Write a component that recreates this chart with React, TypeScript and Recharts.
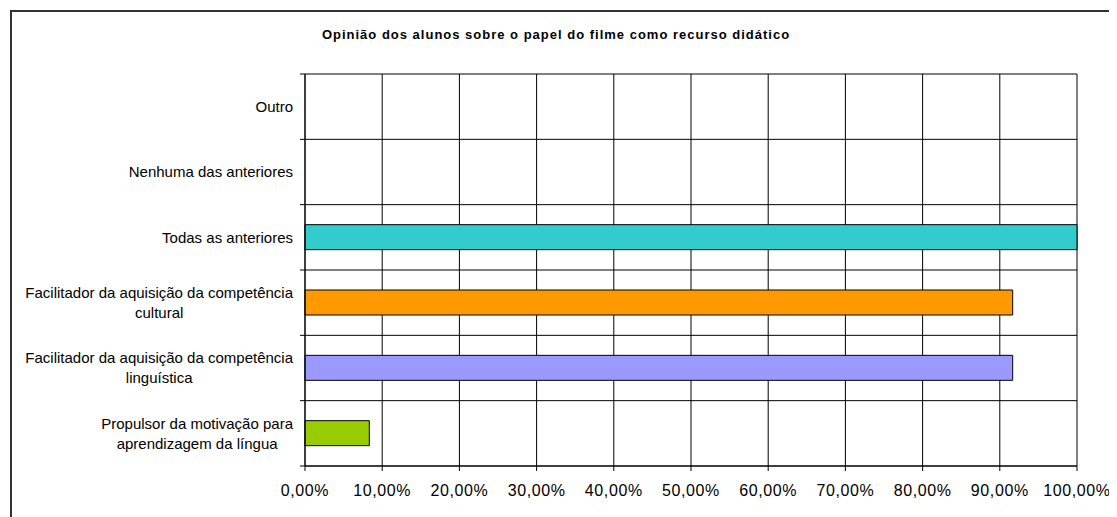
import React from "react";
import { BarChart, Bar, XAxis, YAxis, CartesianGrid, Cell } from "recharts";

const categories = [
  "Outro",
  "Nenhuma das anteriores",
  "Todas as anteriores",
  "Facilitador da aquisição da competência\ncultural",
  "Facilitador da aquisição da competência\nlinguística",
  "Propulsor da motivação para\naprendizagem da língua",
];
const shares = [0, 0, 1, 0.9167, 0.9167, 0.0833];
const barColors = ["#33CCCC", "#33CCCC", "#33CCCC", "#FF9900", "#9999FF", "#99CC00"];
const xTicks = [0, 0.1, 0.2, 0.3, 0.4, 0.5, 0.6, 0.7, 0.8, 0.9, 1];

const data = categories.map((name, i) => ({ name, value: shares[i] }));

const W = 1109;
const H = 509;
const MARGIN = { top: 66, right: 40, left: 0, bottom: 21 };
const X_AXIS_H = 30;
const PLOT_H = H - MARGIN.top - MARGIN.bottom - X_AXIS_H;
const BAND = PLOT_H / categories.length;
const FONT = '"Liberation Sans", Arial, sans-serif';

let ctx: CanvasRenderingContext2D | null = null;
function textWidth(s: string) {
  if (!ctx) ctx = document.createElement("canvas").getContext("2d");
  if (!ctx) return s.length * 7;
  ctx.font = `15px ${FONT}`;
  return ctx.measureText(s).width;
}

const pct = (v: number) => (v * 100).toFixed(2).replace(".", ",") + "%";

// multi-line category label, block right-aligned to the axis, lines centred
function CategoryTick(props: any) {
  const { x, y, payload, index } = props;
  const lines = String(payload.value).split("\n");
  const widest = Math.max(...lines.map(textWidth));
  const cx = x - widest / 2;
  const top = y - ((lines.length - 1) * 20) / 2;
  return (
    <g>
      <line x1={x + 7} x2={x + 12} y1={y - BAND / 2} y2={y - BAND / 2} stroke="#000" />
      {index === categories.length - 1 && (
        <line x1={x + 7} x2={x + 12} y1={y + BAND / 2} y2={y + BAND / 2} stroke="#000" />
      )}
      {lines.map((ln, i) => (
        <text key={i} x={cx} y={top + i * 20} dy="0.35em" textAnchor="middle" fontSize={15} fontFamily={FONT} fill="#000">
          {ln}
        </text>
      ))}
    </g>
  );
}

export default function App() {
  return (
    <div style={{ position: "relative", width: W, height: H, overflow: "hidden", background: "#fff" }}>
      <style>{"html,body{overflow:hidden}"}</style>
      <div
        style={{
          position: "absolute",
          left: 2,
          top: 2,
          width: 1300,
          height: 700,
          borderLeft: "2px solid #333",
          borderTop: "2px solid #333",
        }}
      />
      <div
        style={{
          position: "absolute",
          left: 0,
          top: 19,
          width: 1096,
          textAlign: "center",
          fontFamily: FONT,
          fontWeight: "bold",
          fontSize: 13,
          lineHeight: "15px",
          letterSpacing: 1,
          color: "#000",
        }}
      >
        Opinião dos alunos sobre o papel do filme como recurso didático
      </div>
      <div style={{ position: "absolute", left: 0, top: 0 }}>
        <BarChart width={W} height={H} data={data} layout="vertical" margin={MARGIN}>
          <CartesianGrid
            stroke="#000"
            horizontalCoordinatesGenerator={({ offset }: any) =>
              categories.map((_, i) => offset.top + i * BAND).concat(offset.top + PLOT_H)
            }
          />
          <XAxis
            type="number"
            domain={[0, 1]}
            ticks={xTicks}
            tickFormatter={pct}
            height={X_AXIS_H}
            axisLine={{ stroke: "#000" }}
            tickLine={{ stroke: "#000" }}
            tickSize={5}
            tickMargin={14}
            tick={{ fill: "#000", fontSize: 16, fontFamily: FONT, letterSpacing: 0.6 }}
          />
          <YAxis
            type="category"
            dataKey="name"
            width={297}
            axisLine={{ stroke: "#000" }}
            tickLine={false}
            tickSize={0}
            tickMargin={12}
            interval={0}
            tick={<CategoryTick />}
          />
          <Bar dataKey="value" barSize={25} stroke="#000" strokeWidth={1} isAnimationActive={false}>
            {data.map((d, i) => (
              <Cell key={d.name} fill={barColors[i]} />
            ))}
          </Bar>
        </BarChart>
      </div>
    </div>
  );
}
